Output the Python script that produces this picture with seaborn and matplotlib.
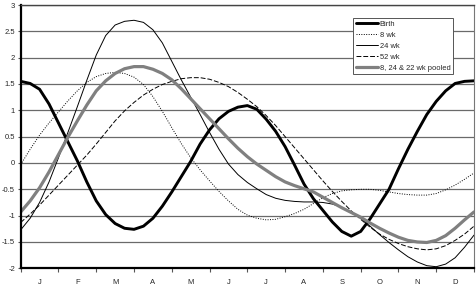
import matplotlib
matplotlib.use("Agg")
import matplotlib.pyplot as plt
import seaborn as sns

# quarter-month positions (0 = 1 Jan, 12 = 31 Dec) and values
month_pos = [0, 0.25, 0.5, 0.75, 1, 1.25, 1.5, 1.75, 2, 2.25, 2.5, 2.75,
             3, 3.25, 3.5, 3.75, 4, 4.25, 4.5, 4.75, 5, 5.25, 5.5, 5.75,
             6, 6.25, 6.5, 6.75, 7, 7.25, 7.5, 7.75, 8, 8.25, 8.5, 8.75,
             9, 9.25, 9.5, 9.75, 10, 10.25, 10.5, 10.75, 11, 11.25, 11.5, 11.75, 12]
birth = [1.55, 1.51, 1.40, 1.12, 0.76, 0.40, 0.04, -0.36, -0.72, -0.98, -1.15, -1.24,
         -1.26, -1.20, -1.05, -0.82, -0.55, -0.26, 0.03, 0.36, 0.63, 0.84, 0.98, 1.06,
         1.09, 1.02, 0.83, 0.60, 0.31, -0.04, -0.40, -0.68, -0.90, -1.12, -1.30, -1.39,
         -1.30, -1.06, -0.78, -0.50, -0.11, 0.26, 0.60, 0.92, 1.17, 1.37, 1.51, 1.55, 1.56]
wk8 = [-0.03, 0.26, 0.53, 0.76, 0.97, 1.18, 1.37, 1.53, 1.64, 1.70, 1.72, 1.70,
       1.63, 1.49, 1.26, 0.98, 0.67, 0.37, 0.10, -0.13, -0.34, -0.54, -0.72, -0.88,
       -0.99, -1.05, -1.08, -1.07, -1.02, -0.96, -0.88, -0.77, -0.66, -0.58, -0.53, -0.51,
       -0.50, -0.50, -0.52, -0.55, -0.58, -0.60, -0.61, -0.61, -0.58, -0.51, -0.42, -0.31, -0.19]
wk24 = [-1.27, -1.05, -0.75, -0.36, 0.10, 0.58, 1.07, 1.57, 2.05, 2.42, 2.62, 2.69,
        2.71, 2.67, 2.53, 2.28, 1.93, 1.58, 1.25, 0.92, 0.58, 0.26, -0.02, -0.22,
        -0.37, -0.49, -0.60, -0.67, -0.71, -0.73, -0.74, -0.74, -0.75, -0.78, -0.84, -0.93,
        -1.05, -1.20, -1.36, -1.51, -1.65, -1.78, -1.88, -1.95, -1.97, -1.92, -1.80, -1.60, -1.37]
wk52 = [-1.13, -0.97, -0.80, -0.61, -0.42, -0.23, -0.04, 0.15, 0.36, 0.58, 0.80, 0.99,
        1.15, 1.29, 1.40, 1.49, 1.55, 1.60, 1.62, 1.62, 1.59, 1.53, 1.45, 1.34,
        1.21, 1.07, 0.90, 0.71, 0.50, 0.29, 0.08, -0.13, -0.34, -0.54, -0.73, -0.91,
        -1.07, -1.22, -1.35, -1.45, -1.53, -1.59, -1.63, -1.65, -1.63, -1.57, -1.47, -1.35, -1.20]
pooled = [-0.93, -0.72, -0.47, -0.17, 0.16, 0.49, 0.80, 1.10, 1.37, 1.56, 1.70, 1.79,
          1.83, 1.83, 1.78, 1.70, 1.58, 1.41, 1.22, 1.03, 0.84, 0.65, 0.46, 0.28,
          0.12, -0.02, -0.14, -0.26, -0.36, -0.43, -0.49, -0.55, -0.65, -0.75, -0.85, -0.94,
          -1.03, -1.14, -1.24, -1.33, -1.41, -1.47, -1.50, -1.51, -1.47, -1.38, -1.24, -1.08, -0.93]

month_labels = ['J', 'F', 'M', 'A', 'M', 'J', 'J', 'A', 'S', 'O', 'N', 'D']
y_ticks = [-2, -1.5, -1, -0.5, 0, 0.5, 1, 1.5, 2, 2.5, 3]

sns.set_style("white")
plt.rcParams['font.family'] = ['Liberation Sans', 'DejaVu Sans']
plt.rcParams['axes.unicode_minus'] = False

fig = plt.figure(figsize=(4.76, 2.89), dpi=100)
ax = fig.add_axes([20.7 / 476, 20.7 / 289, (474 - 20.7) / 476, (268.3 - 5) / 289])

# gridlines first so curves sit on top
ax.set_yticks(y_ticks)
ax.set_yticklabels(['{:g}'.format(v) for v in y_ticks])
ax.yaxis.grid(True, color='#6a6a6a', linewidth=0.9)
ax.set_axisbelow(True)

sns.lineplot(x=month_pos, y=birth, ax=ax, color='black', linewidth=2.1, label='Birth')
sns.lineplot(x=month_pos, y=wk8, ax=ax, color='black', linewidth=0.7,
             linestyle=(0, (1, 1.5)), label='8 wk')
sns.lineplot(x=month_pos, y=wk24, ax=ax, color='black', linewidth=0.7, label='24 wk')
sns.lineplot(x=month_pos, y=wk52, ax=ax, color='black', linewidth=0.7,
             linestyle=(0, (5, 2)), label='52 wk')
sns.lineplot(x=month_pos, y=pooled, ax=ax, color='#808080', linewidth=2.3,
             label='8, 24 & 22 wk pooled')

ax.set_xlim(0, 12)
ax.set_ylim(-2, 3)

# month boundaries as tick marks, letters centred within months
ax.set_xticks(range(13))
ax.set_xticklabels([])
ax.set_xticks([m + 0.5 for m in range(12)], minor=True)
ax.set_xticklabels(month_labels, minor=True)
ax.tick_params(axis='x', which='major', direction='out', length=3, width=0.8,
               color='#555555', bottom=True)
ax.tick_params(axis='x', which='minor', length=0, pad=8, labelsize=5.5)
ax.tick_params(axis='y', direction='out', length=2, width=0.8, pad=2,
               labelsize=5.5, left=True, color='#555555')

for side in ['left', 'bottom']:
    ax.spines[side].set_color('black')
    ax.spines[side].set_linewidth(1.6)
ax.spines['top'].set_color('#444444')
ax.spines['top'].set_linewidth(1.0)
ax.spines['right'].set_color('#777777')
ax.spines['right'].set_linewidth(0.8)
ax.set_xlabel('')
ax.set_ylabel('')

leg = ax.legend(loc='upper right', bbox_to_anchor=(0.954, 0.951), borderaxespad=0,
                fontsize=5.4, frameon=True, fancybox=False, handlelength=3.0,
                handletextpad=0.2, labelspacing=0.5, borderpad=0.35)
leg.get_frame().set_edgecolor('#555555')
leg.get_frame().set_linewidth(0.7)
leg.get_frame().set_alpha(1)

fig.savefig('out.png', dpi=100)
